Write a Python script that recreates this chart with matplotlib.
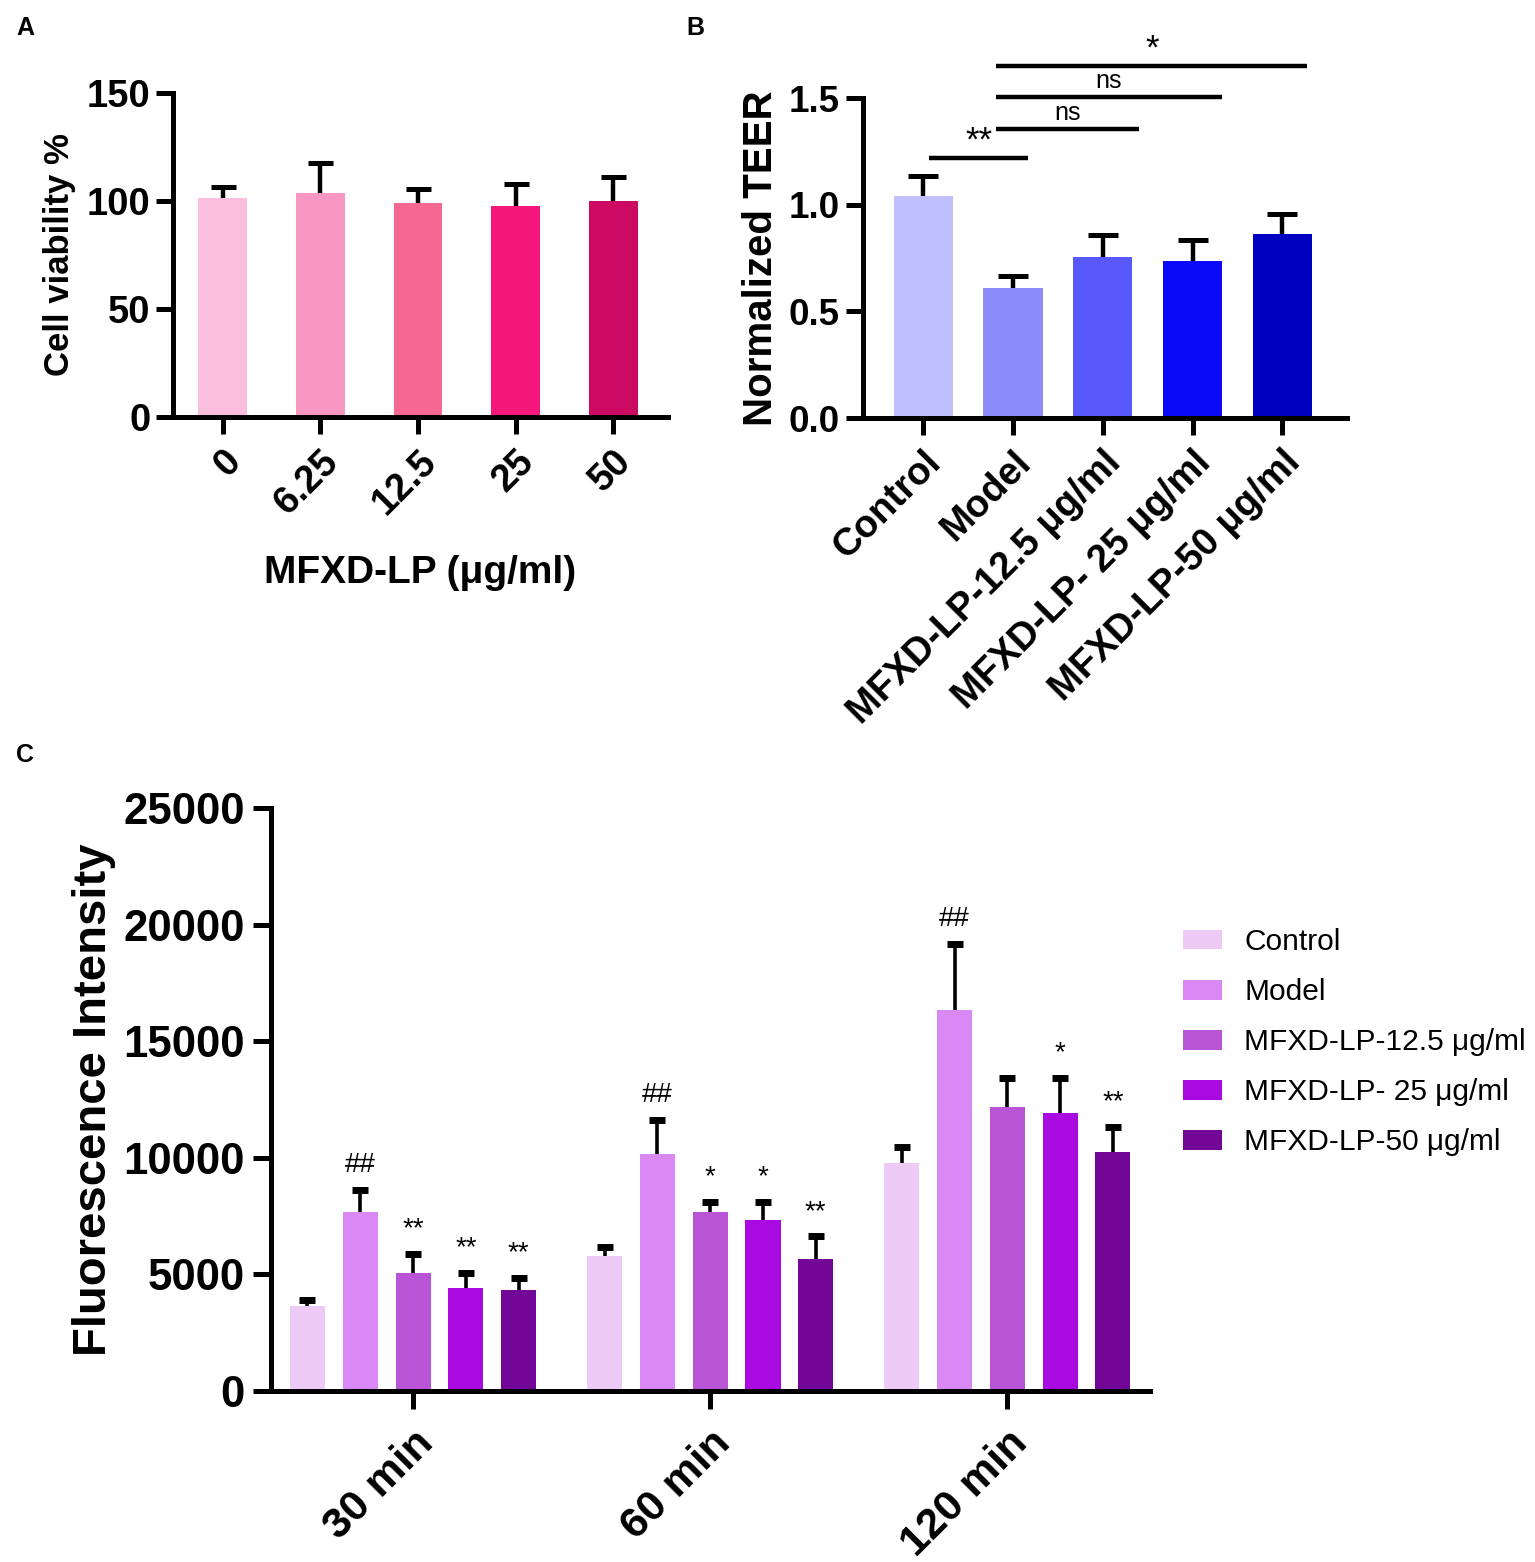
import numpy as np
import matplotlib
matplotlib.use("Agg")
from matplotlib import pyplot as plt

plt.rcParams['font.family'] = ['Liberation Sans', 'DejaVu Sans']

# Panel A: cell viability
dose_labels = ['0', '6.25', '12.5', '25', '50']
viability = [101.4, 103.9, 99.3, 97.9, 100.2]
viability_err = [5.1, 13.9, 6.2, 10.1, 10.8]
colors_a = ['#FBBEDC', '#F797C2', '#F66792', '#F5177C', '#CC0963']

# Panel B: TEER
teer_labels = ['Control', 'Model', 'MFXD-LP-12.5 μg/ml', 'MFXD-LP- 25 μg/ml', 'MFXD-LP-50 μg/ml']
teer = [1.041, 0.609, 0.754, 0.735, 0.861]
teer_err = [0.093, 0.057, 0.102, 0.101, 0.097]
colors_b = ['#BFBFFD', '#8C8CFD', '#5959FB', '#0A0AF8', '#0000C0']
# brackets: (from, to, height, text)
brackets = [(0.07, 1.17, 1.22, '**'), (0.81, 2.40, 1.354, 'ns'),
            (0.81, 3.33, 1.505, 'ns'), (0.81, 4.28, 1.652, '*')]

# Panel C: fluorescence
time_labels = ['30 min', '60 min', '120 min']
group_names = ['Control', 'Model', 'MFXD-LP-12.5 μg/ml', 'MFXD-LP- 25 μg/ml', 'MFXD-LP-50 μg/ml']
fluor = {
    'Control': [3646, 5793, 9756],
    'Model': [7666, 10145, 16327],
    'MFXD-LP-12.5 μg/ml': [5044, 7666, 12162],
    'MFXD-LP- 25 μg/ml': [4438, 7349, 11917],
    'MFXD-LP-50 μg/ml': [4323, 5678, 10231],
}
fluor_err = {
    'Control': [245, 403, 691],
    'Model': [951, 1484, 2838],
    'MFXD-LP-12.5 μg/ml': [821, 447, 1268],
    'MFXD-LP- 25 μg/ml': [634, 764, 1513],
    'MFXD-LP-50 μg/ml': [533, 951, 1081],
}
fluor_sig = {
    'Control': ['', '', ''],
    'Model': ['##', '##', '##'],
    'MFXD-LP-12.5 μg/ml': ['**', '*', ''],
    'MFXD-LP- 25 μg/ml': ['**', '*', '*'],
    'MFXD-LP-50 μg/ml': ['**', '**', '**'],
}
colors_c = ['#EECBF7', '#DA88F5', '#B954D6', '#A90AE0', '#720696']

W, H = 1535, 1562
fig = plt.figure(figsize=(W / 100, H / 100), dpi=100)


def box(l, t, r, b):
    return [l / W, 1 - b / H, (r - l) / W, (b - t) / H]


def style(ax, lw=3.6, tl=12, pad=7):
    for s in ['top', 'right']:
        ax.spines[s].set_visible(False)
    for s in ['left', 'bottom']:
        ax.spines[s].set_linewidth(lw)
    ax.tick_params(width=lw, length=tl, pad=pad)


def top_errbar(ax, xs, ys, errs, lw, capw, capt):
    # one-sided (upper) error bar, cap only at the top
    xs = np.asarray(xs, dtype=float)
    ys = np.asarray(ys, dtype=float)
    tops = ys + np.asarray(errs, dtype=float)
    ax.vlines(xs, ys, tops, color='black', lw=lw, zorder=1)
    ax.plot(xs, tops, ls='none', marker='_', ms=capw, mew=capt, color='black', zorder=1)


# ---- A ----
ax1 = fig.add_axes(box(173, 93, 668, 417))
x = np.arange(len(viability))
ax1.bar(x, viability, width=0.5, color=colors_a, zorder=2)
top_errbar(ax1, x, viability, viability_err, 3.2, 18, 3.6)
ax1.set_xlim(-0.51, 4.56)
ax1.set_ylim(0, 150)
ax1.set_yticks([0, 50, 100, 150])
style(ax1)
ax1.tick_params(axis='y', pad=4)
ax1.set_xticks(x)
ax1.set_xticklabels(dose_labels, rotation=45, ha='right', rotation_mode='anchor')
for lab in ax1.get_xticklabels() + ax1.get_yticklabels():
    lab.set_fontsize(27.5)
    lab.set_fontweight('bold')
ax1.set_ylabel('Cell viability %', fontsize=25, fontweight='bold', labelpad=8)
ax1.set_xlabel('MFXD-LP (μg/ml)', fontsize=28, fontweight='bold', labelpad=24)

# ---- B ----
ax2 = fig.add_axes(box(863, 98, 1347, 418))
x = np.arange(len(teer))
ax2.bar(x, teer, width=0.66, color=colors_b, zorder=2)
top_errbar(ax2, x, teer, teer_err, 3.2, 21, 3.6)
ax2.set_xlim(-0.67, 4.72)
ax2.set_ylim(0, 1.5)
ax2.set_yticks([0, 0.5, 1.0, 1.5])
ax2.set_yticklabels(['0.0', '0.5', '1.0', '1.5'])
style(ax2)
ax2.tick_params(axis='y', pad=5)
ax2.set_xticks(x)
ax2.set_xticklabels(teer_labels, rotation=45, ha='right', rotation_mode='anchor')
for lab in ax2.get_xticklabels():
    lab.set_fontsize(27.5)
    lab.set_fontweight('bold')
for lab in ax2.get_yticklabels():
    lab.set_fontsize(26.5)
    lab.set_fontweight('bold')
ax2.set_ylabel('Normalized TEER', fontsize=29, fontweight='bold', labelpad=6)
for x0, x1, yb, txt in brackets:
    ax2.plot([x0, x1], [yb, yb], color='black', lw=3.2, clip_on=False,
             solid_capstyle='butt')
    fs = 18 if txt == 'ns' else 25
    off = 0.02 if txt == 'ns' else 0.0
    ax2.text((x0 + x1) / 2, yb + off, txt, ha='center', va='bottom',
             fontsize=fs, clip_on=False)

# ---- C ----
ax3 = fig.add_axes(box(271, 808, 1150, 1391))
gx = np.arange(len(time_labels))
step = 0.1776
for i, name in enumerate(group_names):
    xs = gx + (i - 2) * step
    ax3.bar(xs, fluor[name], width=0.118, color=colors_c[i], label=name, zorder=2)
    top_errbar(ax3, xs, fluor[name], fluor_err[name], 2.6, 11, 5)
    for xx, v, e, s in zip(xs, fluor[name], fluor_err[name], fluor_sig[name]):
        if s:
            ax3.text(xx, v + e + 500, s, ha='center', va='bottom', fontsize=20)
ax3.set_xlim(-0.478, 2.48)
ax3.set_ylim(0, 25000)
ax3.set_yticks([0, 5000, 10000, 15000, 20000, 25000])
style(ax3, lw=3.6, tl=13, pad=6)
ax3.set_xticks(gx)
ax3.set_xticklabels(time_labels, rotation=45, ha='right', rotation_mode='anchor')
ax3.tick_params(axis='x', pad=10)
for lab in ax3.get_xticklabels():
    lab.set_fontsize(31)
    lab.set_fontweight('bold')
for lab in ax3.get_yticklabels():
    lab.set_fontsize(31.5)
    lab.set_fontweight('bold')
ax3.set_ylabel('Fluorescence Intensity', fontsize=34, fontweight='bold', labelpad=5)
fig.legend(loc='upper left', bbox_to_anchor=(1183 / W, 1 - 928 / H), frameon=False,
           fontsize=21.5, handlelength=1.3, handleheight=0.65, labelspacing=0.74,
           handletextpad=0.75, borderaxespad=0, borderpad=0)

# panel letters
fig.text(16 / W, 1 - 35 / H, 'A', fontsize=18, fontweight='bold')
fig.text(686 / W, 1 - 35 / H, 'B', fontsize=18, fontweight='bold')
fig.text(16 / W, 1 - 762 / H, 'C', fontsize=18, fontweight='bold')

fig.savefig('out.png', dpi=100)
